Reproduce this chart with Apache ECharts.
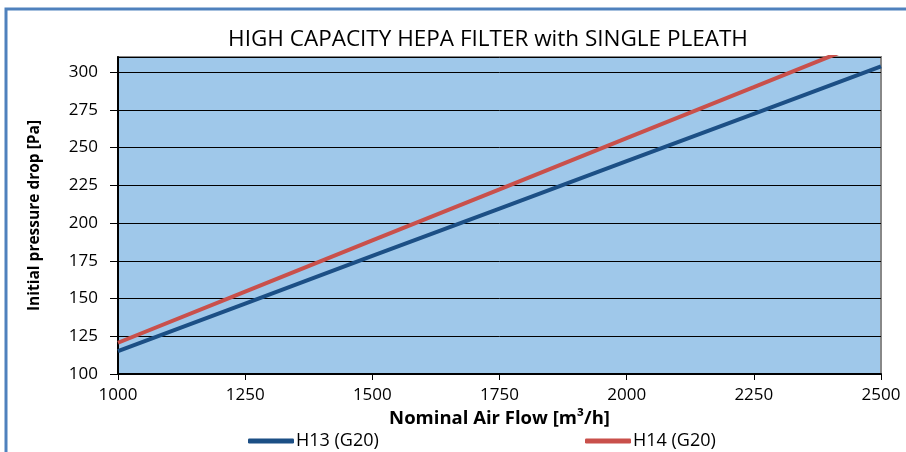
<!DOCTYPE html>
<html>
<head>
<meta charset="utf-8">
<script src="https://cdn.jsdelivr.net/npm/echarts@6/dist/echarts.min.js"></script>
<style>
html,body{margin:0;padding:0;background:#fff;}
#c{width:906px;height:452px;}
</style>
</head>
<body>
<div id="c"></div>
<script>
const airFlow = [1000, 1250, 1500, 1750, 2000, 2250, 2500];
const h13 = [115.2, 146.7, 178.2, 209.6, 241, 272.4, 303.8];
const h14 = [120.7, 154.6, 188.5, 222.3, 256.2, 290, 324];
const seriesNames = ['H13 (G20)', 'H14 (G20)'];
const yTicks = [100, 310, 25];
const xTicks = [1000, 2500, 250];

const font = '"Open Sans", sans-serif';
const chart = echarts.init(document.getElementById('c'), null, {renderer: 'canvas'});
chart.setOption({
  animation: false,
  backgroundColor: '#fff',
  graphic: [{
    type: 'rect', shape: {x: 6, y: 9, width: 1000, height: 1000},
    style: {fill: 'none', stroke: '#4F81BD', lineWidth: 3}, silent: true, z: 100
  }],
  title: {
    text: 'HIGH CAPACITY HEPA FILTER with SINGLE PLEATH',
    left: 483, top: 23, textAlign: 'center',
    textStyle: {fontFamily: font, fontSize: 22.5, fontWeight: 'normal', color: '#000'}
  },
  legend: [{
    data: [seriesNames[0]], left: 243, top: 427,
    itemWidth: 46, itemHeight: 5, icon: 'roundRect', itemGap: 4,
    textStyle: {fontFamily: font, fontSize: 18, color: '#000', padding: [0,0,0,-3]}
  }, {
    data: [seriesNames[1]], left: 580, top: 427,
    itemWidth: 46, itemHeight: 5, icon: 'roundRect', itemGap: 4,
    textStyle: {fontFamily: font, fontSize: 18, color: '#000', padding: [0,0,0,-3]}
  }],
  grid: {
    left: 118, right: 25, top: 57, bottom: 78,
    show: true, backgroundColor: '#9FC8EA', borderColor: '#888', borderWidth: 2
  },
  xAxis: {
    type: 'value', min: xTicks[0], max: xTicks[1], interval: xTicks[2],
    name: 'Nominal Air Flow [m³/h]', nameLocation: 'middle', nameGap: 31,
    nameTextStyle: {fontFamily: font, fontSize: 18.5, fontWeight: 'bold', color: '#000'},
    axisLine: {lineStyle: {color: '#000', width: 2}},
    axisTick: {show: true, length: 6, lineStyle: {color: '#000', width: 1}},
    axisLabel: {fontFamily: font, fontSize: 17, color: '#000', margin: 13,
      formatter: v => String(v)},
    splitLine: {show: false}
  },
  yAxis: {
    type: 'value', min: yTicks[0], max: yTicks[1], interval: yTicks[2],
    name: 'Initial pressure drop [Pa]', nameLocation: 'middle', nameGap: 75,
    nameRotate: 90,
    nameTextStyle: {fontFamily: font, fontSize: 15.5, fontWeight: 'bold', color: '#000'},
    axisLine: {show: true, lineStyle: {color: '#000', width: 2}},
    axisTick: {show: true, length: 8, lineStyle: {color: '#000', width: 1}},
    axisLabel: {fontFamily: font, fontSize: 17, color: '#000', margin: 20,
      showMaxLabel: false},
    splitLine: {show: true, lineStyle: {color: '#000', width: 1}}
  },
  series: [{
    name: seriesNames[0], type: 'line', showSymbol: false, clip: true,
    data: airFlow.map((x, i) => [x, h13[i]]),
    color: '#1C4F85', lineStyle: {width: 4, color: '#1C4F85'}
  }, {
    name: seriesNames[1], type: 'line', showSymbol: false, clip: true,
    data: airFlow.map((x, i) => [x, h14[i]]),
    color: '#C9504B', lineStyle: {width: 4, color: '#C9504B'}
  }]
});
</script>
</body>
</html>
